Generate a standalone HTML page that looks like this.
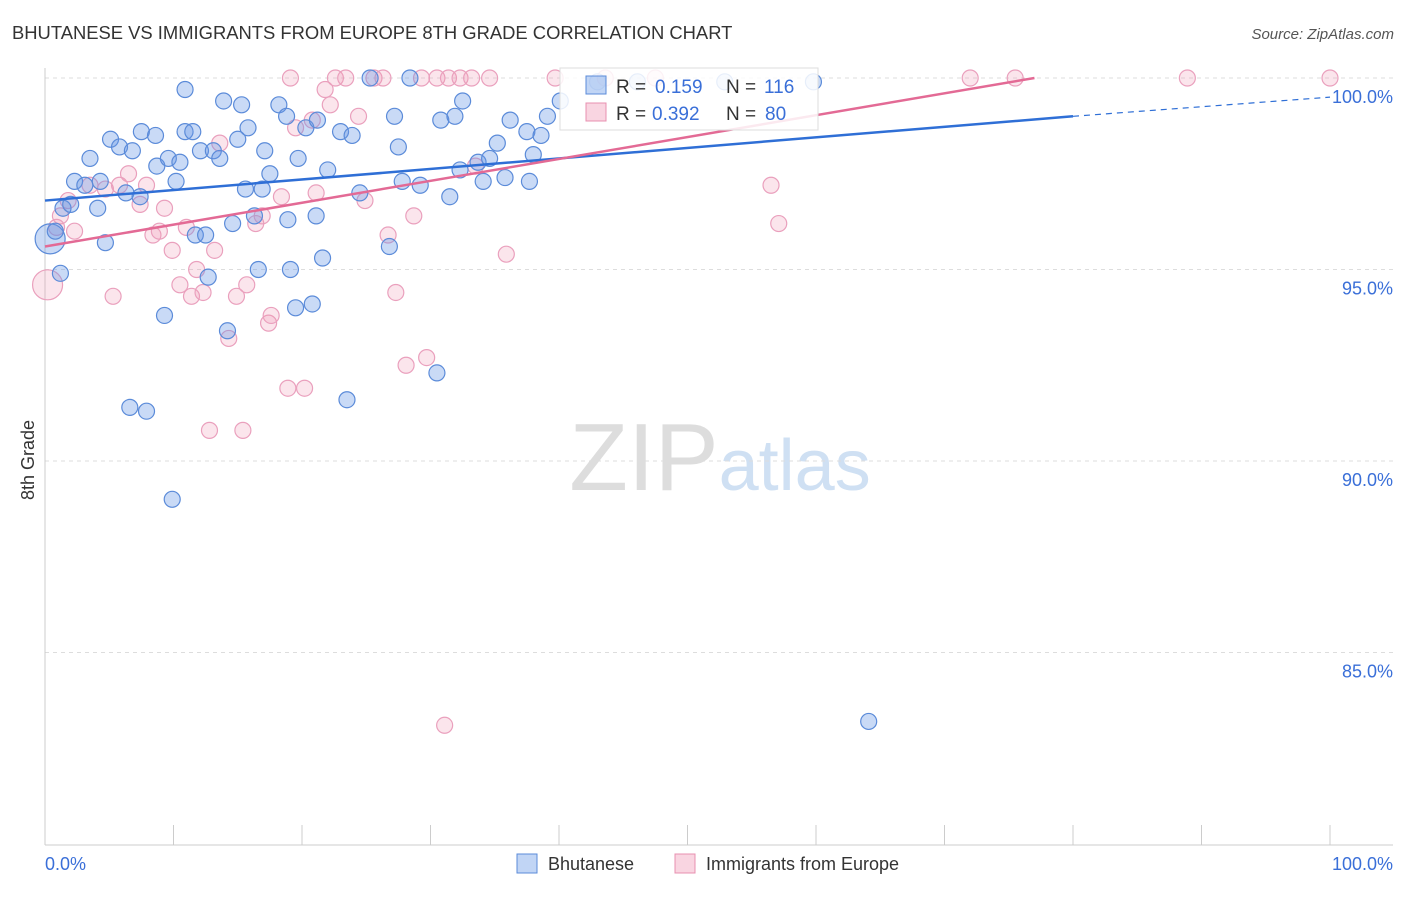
<!DOCTYPE html>
<html><head><meta charset="utf-8"><style>
body{margin:0;background:#fff;font-family:"Liberation Sans",sans-serif}
svg text{font-family:"Liberation Sans",sans-serif}
</style></head><body>
<svg id="chart" width="1406" height="892">
<text x="12" y="39" font-size="18.4" fill="#333">BHUTANESE VS IMMIGRANTS FROM EUROPE 8TH GRADE CORRELATION CHART</text>
<text x="1394" y="39" font-size="15" fill="#555" font-style="italic" text-anchor="end">Source: ZipAtlas.com</text>
<text x="34" y="460" font-size="18" fill="#333" transform="rotate(-90 34 460)" text-anchor="middle">8th Grade</text>
<text x="720" y="490" font-size="96" fill="#ddd" text-anchor="middle" font-family="Liberation Serif">ZIP<tspan fill="#cfe0f3" font-family="Liberation Sans" font-size="72">atlas</tspan></text>
<g id="grid"></g><g id="axes"></g><g id="marks"></g>
<g>
<rect x="560" y="68" width="258" height="62" fill="#fff" fill-opacity="0.85" stroke="#ddd"/>
<rect x="586" y="76" width="20" height="18" fill="rgba(100,150,230,0.4)" stroke="#5b8bd9"/>
<text x="616" y="93" font-size="19" fill="#333">R =</text><text x="655" y="93" font-size="19" fill="#3a6fd8">0.159</text>
<text x="726" y="93" font-size="19" fill="#333">N =</text><text x="764" y="93" font-size="19" fill="#3a6fd8">116</text>
<rect x="586" y="103" width="20" height="18" fill="rgba(240,150,180,0.4)" stroke="#e890b0"/>
<text x="616" y="120" font-size="19" fill="#333">R =</text><text x="652" y="120" font-size="19" fill="#3a6fd8">0.392</text>
<text x="726" y="120" font-size="19" fill="#333">N =</text><text x="765" y="120" font-size="19" fill="#3a6fd8">80</text>
</g>
<g>
<rect x="517" y="854" width="20" height="19" fill="rgba(100,150,230,0.4)" stroke="#5b8bd9"/>
<text x="548" y="870" font-size="18" fill="#333">Bhutanese</text>
<rect x="675" y="854" width="20" height="19" fill="rgba(240,150,180,0.4)" stroke="#e890b0"/>
<text x="706" y="870" font-size="18" fill="#333">Immigrants from Europe</text>
</g>
</svg>
<script>
const yTicks=[100,95,90,85];
const yTickLabels=["100.0%","95.0%","90.0%","85.0%"];
const xTickLabels=["0.0%","100.0%"];
const blueX=[0.4,1.2,0.8,2.3,3.5,5.1,5.8,6.8,7.5,8.6,8.7,9.6,10.2,10.5,10.9,10.9,11.5,12.1,13.1,13.6,13.9,15.3,15.0,15.8,17.1,18.2,18.8,19.7,20.3,21.2,22.0,23.0,23.9,25.3,27.2,27.5,28.4,30.8,31.9,32.5,33.7,34.6,35.2,36.2,37.5,38.0,38.6,39.1,40.1,43,46.1,52.9,59.8,15.6,16.9,17.5,18.9,21.1,21.6,24.5,26.8,27.8,29.2,31.5,32.3,34.1,35.8,37.7,4.1,4.7,6.3,7.4,11.7,12.5,12.7,14.6,16.3,16.6,19.1,19.5,20.8,9.3,14.2,6.6,7.9,9.9,23.5,30.5,64.1,3.1,4.3,1.4,2.0];
const blueY=[95.8,94.9,96.0,97.3,97.9,98.4,98.2,98.1,98.6,98.5,97.7,97.9,97.3,97.8,99.7,98.6,98.6,98.1,98.1,97.9,99.4,99.3,98.4,98.7,98.1,99.3,99.0,97.9,98.7,98.9,97.6,98.6,98.5,100,99.0,98.2,100,98.9,99.0,99.4,97.8,97.9,98.3,98.9,98.6,98.0,98.5,99.0,99.4,99.9,99.9,99.9,99.9,97.1,97.1,97.5,96.3,96.4,95.3,97.0,95.6,97.3,97.2,96.9,97.6,97.3,97.4,97.3,96.6,95.7,97.0,96.9,95.9,95.9,94.8,96.2,96.4,95.0,95.0,94.0,94.1,93.8,93.4,91.4,91.3,89.0,91.6,92.3,83.2,97.2,97.3,96.6,96.7];
const pinkX=[0.2,1.2,2.3,1.8,3.5,4.7,5.3,5.8,6.5,7.4,7.9,8.4,8.9,9.3,9.9,10.5,11.0,11.4,11.8,12.3,12.8,13.2,13.6,14.3,14.9,15.4,15.7,16.4,16.9,17.4,17.6,18.4,18.9,19.5,20.2,20.8,21.1,21.8,22.2,22.6,23.4,24.4,24.9,25.6,26.3,26.7,27.3,28.1,28.7,29.3,29.7,30.5,31.4,32.3,33.2,33.5,34.6,35.9,31.1,39.7,43.6,47.5,72,75.5,88.9,100,56.5,57.1,19.1,0.9];
const pinkY=[94.6,96.4,96.0,96.8,97.2,97.1,94.3,97.2,97.5,96.7,97.2,95.9,96.0,96.6,95.5,94.6,96.1,94.3,95.0,94.4,90.8,95.5,98.3,93.2,94.3,90.8,94.6,96.2,96.4,93.6,93.8,96.9,91.9,98.7,91.9,98.9,97.0,99.7,99.3,100,100,99.0,96.8,100,100,95.9,94.4,92.5,96.4,100,92.7,100,100,100,100,97.7,100,95.4,83.1,100,100,100,100,100,100,100,97.2,96.2,100,96.1];
const blueTrend=[[0,96.8],[80,99.0],[100,99.5]];
const pinkTrend=[[0,95.6],[77,100]];
const X=v=>45+v*12.85, Y=v=>78+(100-v)*38.3;
const NS="http://www.w3.org/2000/svg";
function mk(p,tag,a){const e=document.createElementNS(NS,tag);for(const k in a)e.setAttribute(k,a[k]);document.getElementById(p).appendChild(e);return e;}
yTicks.forEach((t,i)=>{
 const l=mk('grid','line',{x1:45,x2:1393,y1:Y(t),y2:Y(t),stroke:'#ddd','stroke-dasharray':'4 4'});
 
 
 const tx=mk('axes','text',{x:1393,y:Y(t)+25,'font-size':18,fill:'#3a6fd8','text-anchor':'end'});tx.textContent=yTickLabels[i];
 
 
});
const ax=mk('axes','line',{x1:45,x2:1393,y1:845,y2:845,stroke:'#ccc'});


const ay=mk('axes','line',{x1:45,x2:45,y1:68,y2:845,stroke:'#ccc'});


for(let i=0;i<=10;i++){const t=mk('axes','line',{x1:X(i*10),x2:X(i*10),y1:825,y2:845,stroke:'#ccc'});
 
 }
[[0,'start',45],[100,'end',1393]].forEach((d,i)=>{const t=mk('axes','text',{x:d[2],y:870,'font-size':18,fill:'#3a6fd8','text-anchor':d[1]});t.textContent=xTickLabels[i];
 
 });
function pts(xs,ys,fill,stroke,name){xs.forEach((x,i)=>{const big=(i===0);
 const c=mk('marks','circle',{cx:X(x),cy:Y(ys[i]),r:big?15:8,fill:fill,stroke:stroke,'stroke-width':1.2});
 
 });}
pts(pinkX,pinkY,'rgba(240,150,180,0.25)','#eaa0bd','point-immigrants');
pts(blueX,blueY,'rgba(100,150,230,0.35)','#5b8bd9','point-bhutanese');
const b1=mk('marks','line',{x1:X(blueTrend[0][0]),y1:Y(blueTrend[0][1]),x2:X(blueTrend[1][0]),y2:Y(blueTrend[1][1]),stroke:'#2f6fd6','stroke-width':2.5});


const b2=mk('marks','line',{x1:X(blueTrend[1][0]),y1:Y(blueTrend[1][1]),x2:X(blueTrend[2][0]),y2:Y(blueTrend[2][1]),stroke:'#2f6fd6','stroke-width':1.2,'stroke-dasharray':'6 5'});


const p1=mk('marks','line',{x1:X(pinkTrend[0][0]),y1:Y(pinkTrend[0][1]),x2:X(pinkTrend[1][0]),y2:Y(pinkTrend[1][1]),stroke:'#e36a95','stroke-width':2.5});


</script>
</body></html>
